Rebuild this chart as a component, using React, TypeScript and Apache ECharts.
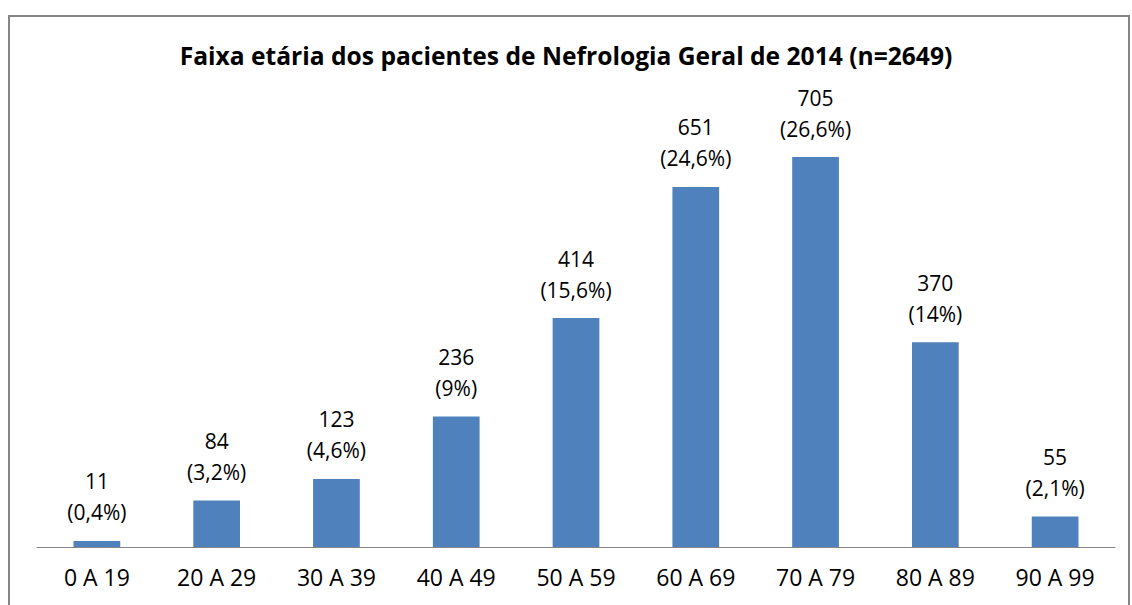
import React, { useEffect, useRef } from "react";
import * as echarts from "echarts";

const categories = ["0 A 19", "20 A 29", "30 A 39", "40 A 49", "50 A 59", "60 A 69", "70 A 79", "80 A 89", "90 A 99"];
const values = [11, 84, 123, 236, 414, 651, 705, 370, 55];
const percents = ["0,4%", "3,2%", "4,6%", "9%", "15,6%", "24,6%", "26,6%", "14%", "2,1%"];
const title = "Faixa etária dos pacientes de Nefrologia Geral de 2014 (n=2649)";

export default function App() {
  const ref = useRef<HTMLDivElement>(null);
  useEffect(() => {
    if (!ref.current) return;
    const chart = echarts.init(ref.current, null, { renderer: "svg" });
    chart.setOption({
      animation: false,
      backgroundColor: "#ffffff",
      title: {
        text: title,
        left: "center",
        top: 38,
        textStyle: { fontFamily: "Open Sans", fontWeight: "bold", fontSize: 24.6, color: "#000" },
      },
      graphic: [
        {
          type: "rect",
          shape: { x: 9, y: 16, width: 1120, height: 620 },
          style: { fill: "none", stroke: "#868686", lineWidth: 2 },
        },
      ],
      grid: { left: 37, right: 17, top: 104.5, bottom: 58 },
      xAxis: {
        type: "category",
        data: categories,
        axisLine: { lineStyle: { color: "#868686", width: 1 } },
        axisTick: { show: false },
        axisLabel: { fontFamily: "Open Sans", fontSize: 23, color: "#000", margin: 18 },
      },
      yAxis: {
        type: "value",
        min: 0,
        max: 800,
        show: false,
        splitLine: { show: false },
      },
      series: [
        {
          type: "bar",
          data: values,
          barWidth: "39%",
          itemStyle: { color: "#4F81BD" },
          label: {
            show: true,
            position: "top",
            distance: 13,
            fontFamily: "Open Sans",
            fontSize: 21,
            lineHeight: 31,
            color: "#000",
            formatter: (p: any) => `${p.value}\n(${percents[p.dataIndex]})`,
          },
        },
      ],
    });
    return () => chart.dispose();
  }, []);
  return (
    <div
      ref={ref}
      style={{ position: "fixed", left: 0, top: 0, width: 1132, height: 605 }}
    />
  );
}
